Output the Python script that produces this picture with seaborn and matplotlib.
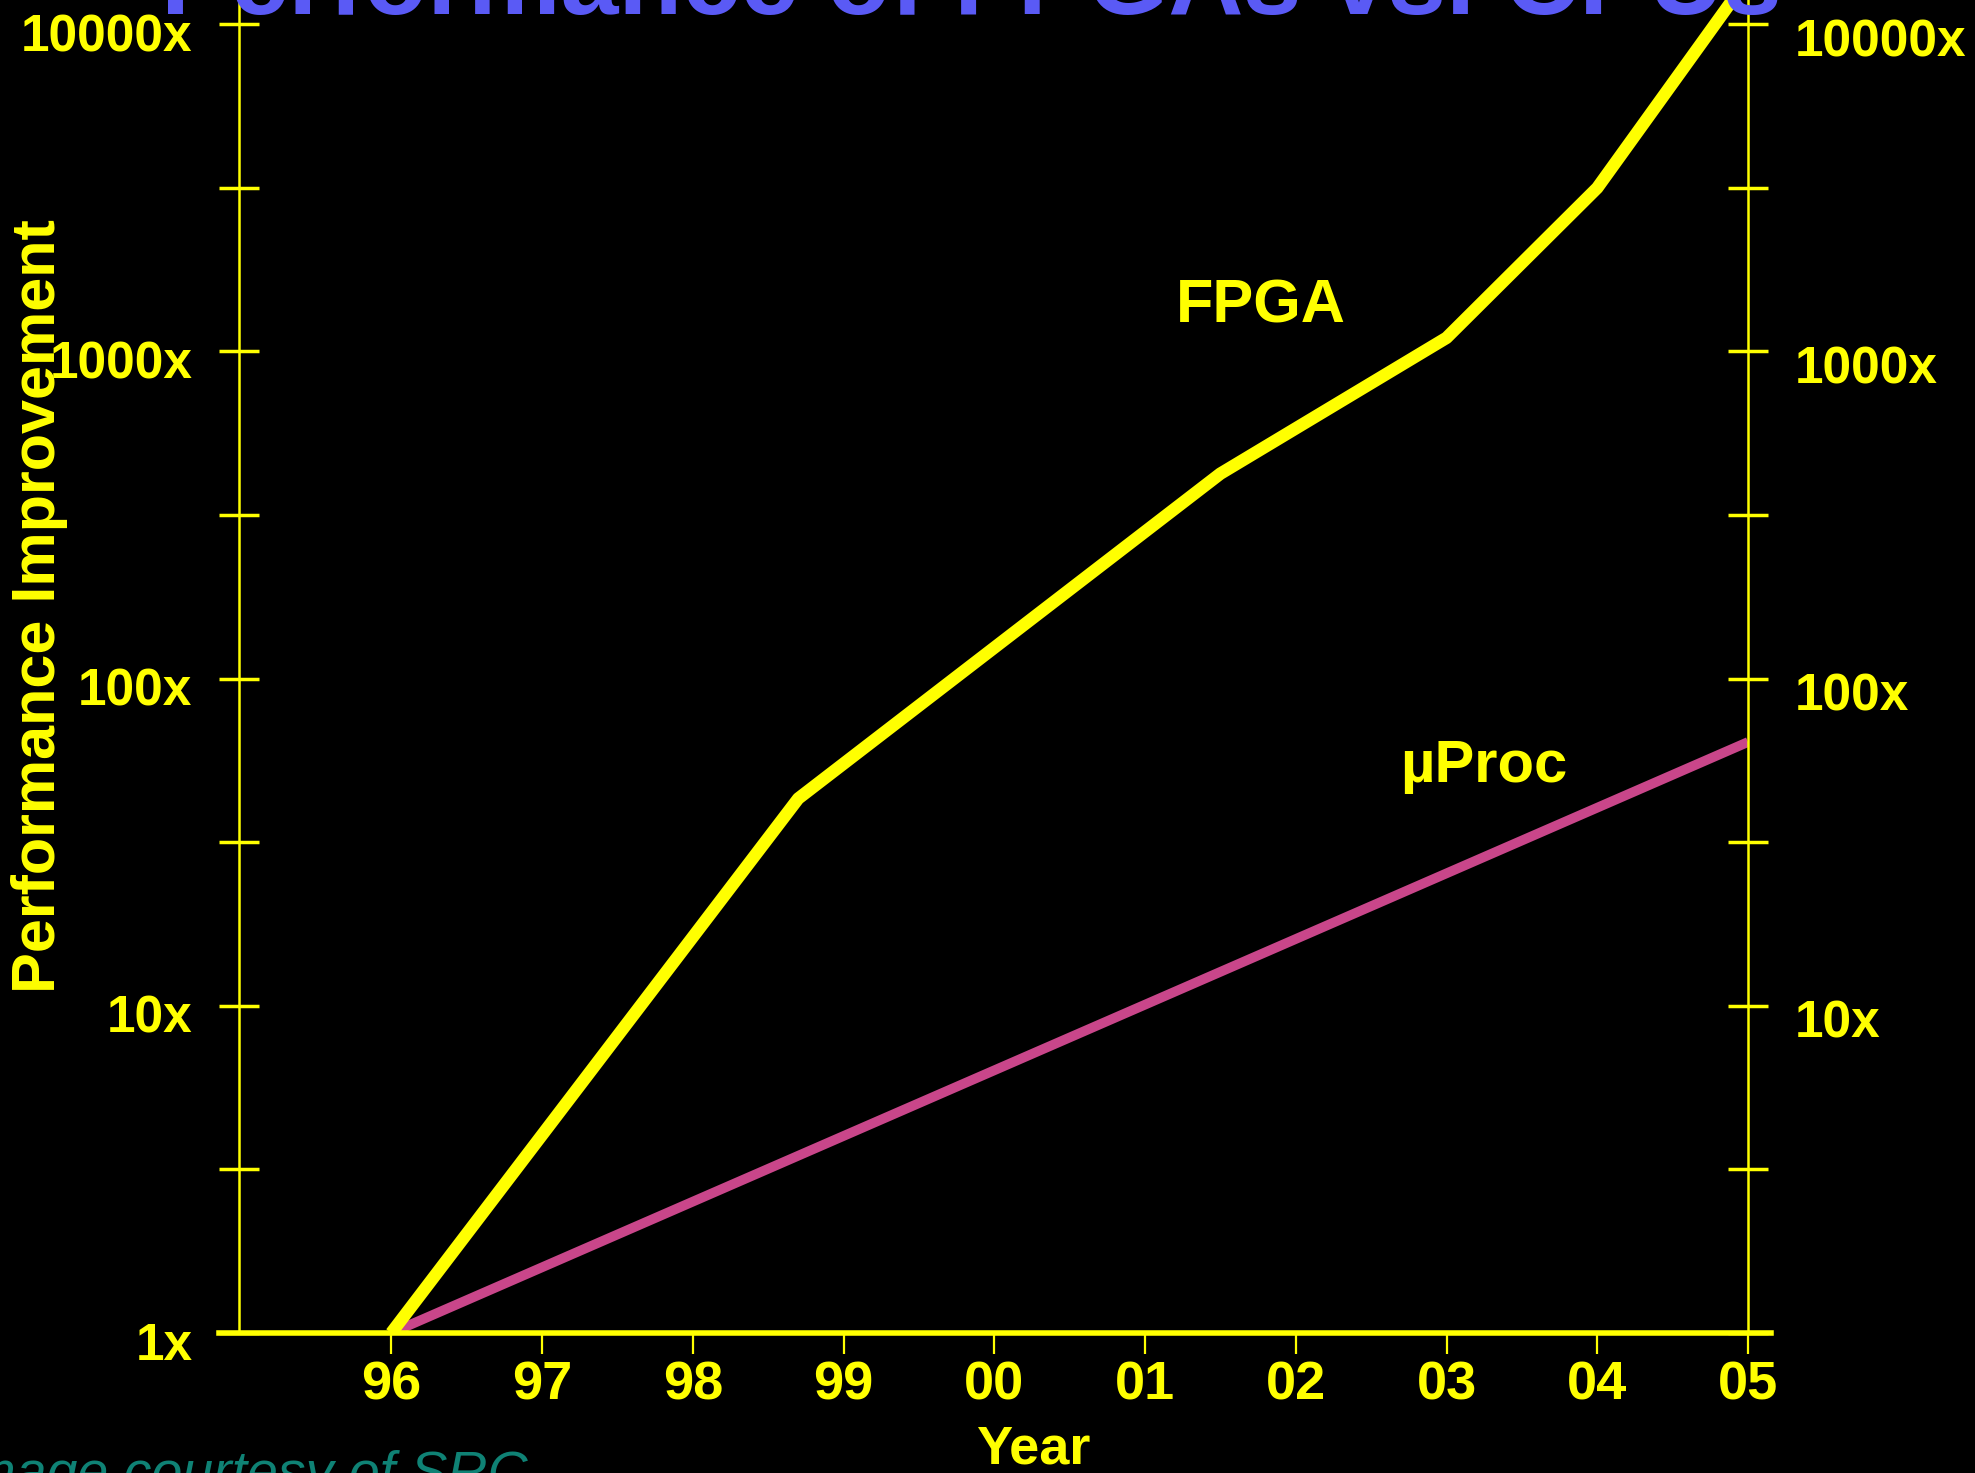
import numpy as np
import pandas as pd
import seaborn as sns
import matplotlib.pyplot as plt
from matplotlib.transforms import ScaledTranslation

## DATA ##
fpga_years = [1996, 1998.7, 2001.5, 2003, 2004, 2005]
fpga_perf = [1, 43, 423, 1100, 3160, 13800]

uproc_years = [1996, 1999, 2002, 2005]
uproc_perf = [1, 4, 16, 64]

year_ticks = [1996, 1997, 1998, 1999, 2000, 2001, 2002, 2003, 2004, 2005]
year_labels = ['96', '97', '98', '99', '00', '01', '02', '03', '04', '05']

perf_ticks = [1, 10**0.5, 10, 10**1.5, 100, 10**2.5, 1000, 10**3.5, 10000]
perf_labels = ['1x', '', '10x', '', '100x', '', '1000x', '', '10000x']
perf_labels_right = ['', '', '10x', '', '100x', '', '1000x', '', '10000x']

## STYLE ##
YELLOW = '#ffff00'
PINK = '#c9468a'
BLUE = '#5a5af5'
TEAL = '#0f8275'

sns.set_theme(style='ticks', rc={'figure.facecolor': 'black', 'axes.facecolor': 'black',
                                 'savefig.facecolor': 'black'})
plt.rcParams['font.family'] = ['Liberation Sans', 'DejaVu Sans']

fpga = pd.DataFrame({'year': fpga_years, 'perf': fpga_perf})
uproc = pd.DataFrame({'year': uproc_years, 'perf': uproc_perf})

fig = plt.figure(figsize=(19.75, 14.73), dpi=100)
ax = fig.add_axes([239/1975, 1 - 1333/1473, (1748-239)/1975, 1333/1473])
ax.set_yscale('log')

sns.lineplot(data=uproc, x='year', y='perf', color=PINK, linewidth=7, ax=ax,
             estimator=None, sort=False, solid_capstyle='butt')
sns.lineplot(data=fpga, x='year', y='perf', color=YELLOW, linewidth=9, ax=ax,
             estimator=None, sort=False, solid_capstyle='butt', solid_joinstyle='round')

ax.set_xlim(1994.99, 2005)
ax.set_ylim(1, 10**4.074)
ax.minorticks_off()

ax.set_xticks(year_ticks)
ax.set_xticklabels(year_labels)
ax.set_yticks(perf_ticks)
ax.set_yticklabels(perf_labels)

# right side axis, same scale
ax2 = ax.twinx()
ax2.set_yscale('log')
ax2.set_ylim(ax.get_ylim())
ax2.minorticks_off()
ax2.set_yticks(perf_ticks)
ax2.set_yticklabels(perf_labels_right)

ax.tick_params(axis='y', direction='inout', length=29, width=2.5, color=YELLOW,
               labelcolor=YELLOW, labelsize=37, pad=19)
ax.tick_params(axis='x', direction='out', length=15, width=1.6, color=YELLOW,
               labelcolor=YELLOW, labelsize=39, pad=5)
ax2.tick_params(axis='y', direction='inout', length=29, width=2.5, color=YELLOW,
                labelcolor=YELLOW, labelsize=37, pad=19)

for t in ax.get_xticklabels() + ax.get_yticklabels() + ax2.get_yticklabels():
    t.set_fontweight('bold')
# the slide's y labels sit a little below their ticks
for t in ax.get_yticklabels():
    t.set_transform(t.get_transform() + ScaledTranslation(0, -0.08, fig.dpi_scale_trans))
for t in ax2.get_yticklabels():
    t.set_transform(t.get_transform() + ScaledTranslation(0, -0.13, fig.dpi_scale_trans))

for s in ['top', 'right']:
    ax.spines[s].set_visible(False)
for s in ['top', 'left', 'bottom']:
    ax2.spines[s].set_visible(False)
ax.spines['left'].set_color(YELLOW)
ax.spines['left'].set_linewidth(1.8)
ax2.spines['right'].set_color(YELLOW)
ax2.spines['right'].set_linewidth(1.8)
ax.spines['bottom'].set_color(YELLOW)
ax.spines['bottom'].set_linewidth(4)
ax.spines['bottom'].set_bounds(1994.86, 2005.15)

ax.set_xlabel('Year', fontsize=39, fontweight='bold', color=YELLOW)
ax.xaxis.set_label_coords(0.526, -0.069)
ax.set_ylabel('Performance Improvement', fontsize=44, fontweight='bold', color=YELLOW)
ax.yaxis.set_label_coords(-0.113, 0.545)

# series labels
ax.text(2001.77, 1365, 'FPGA', ha='center', va='center', fontsize=44,
        fontweight='bold', color=YELLOW)
ax.text(2003.25, 54, 'µProc', ha='center', va='center', fontsize=43,
        fontweight='bold', color=YELLOW)

# slide title (cut off at the top) and credit (cut off at the bottom)
fig.text(0.492, 1 - 14/1473, 'Performance of FPGAs vs. CPUs', ha='center', va='baseline',
         fontsize=75, fontweight='bold', color=BLUE)
fig.text(-46/1975, -17/1473, 'Image courtesy of SRC', ha='left', va='baseline',
         fontsize=40, style='italic', color=TEAL)

fig.savefig('out.png', dpi=100)
